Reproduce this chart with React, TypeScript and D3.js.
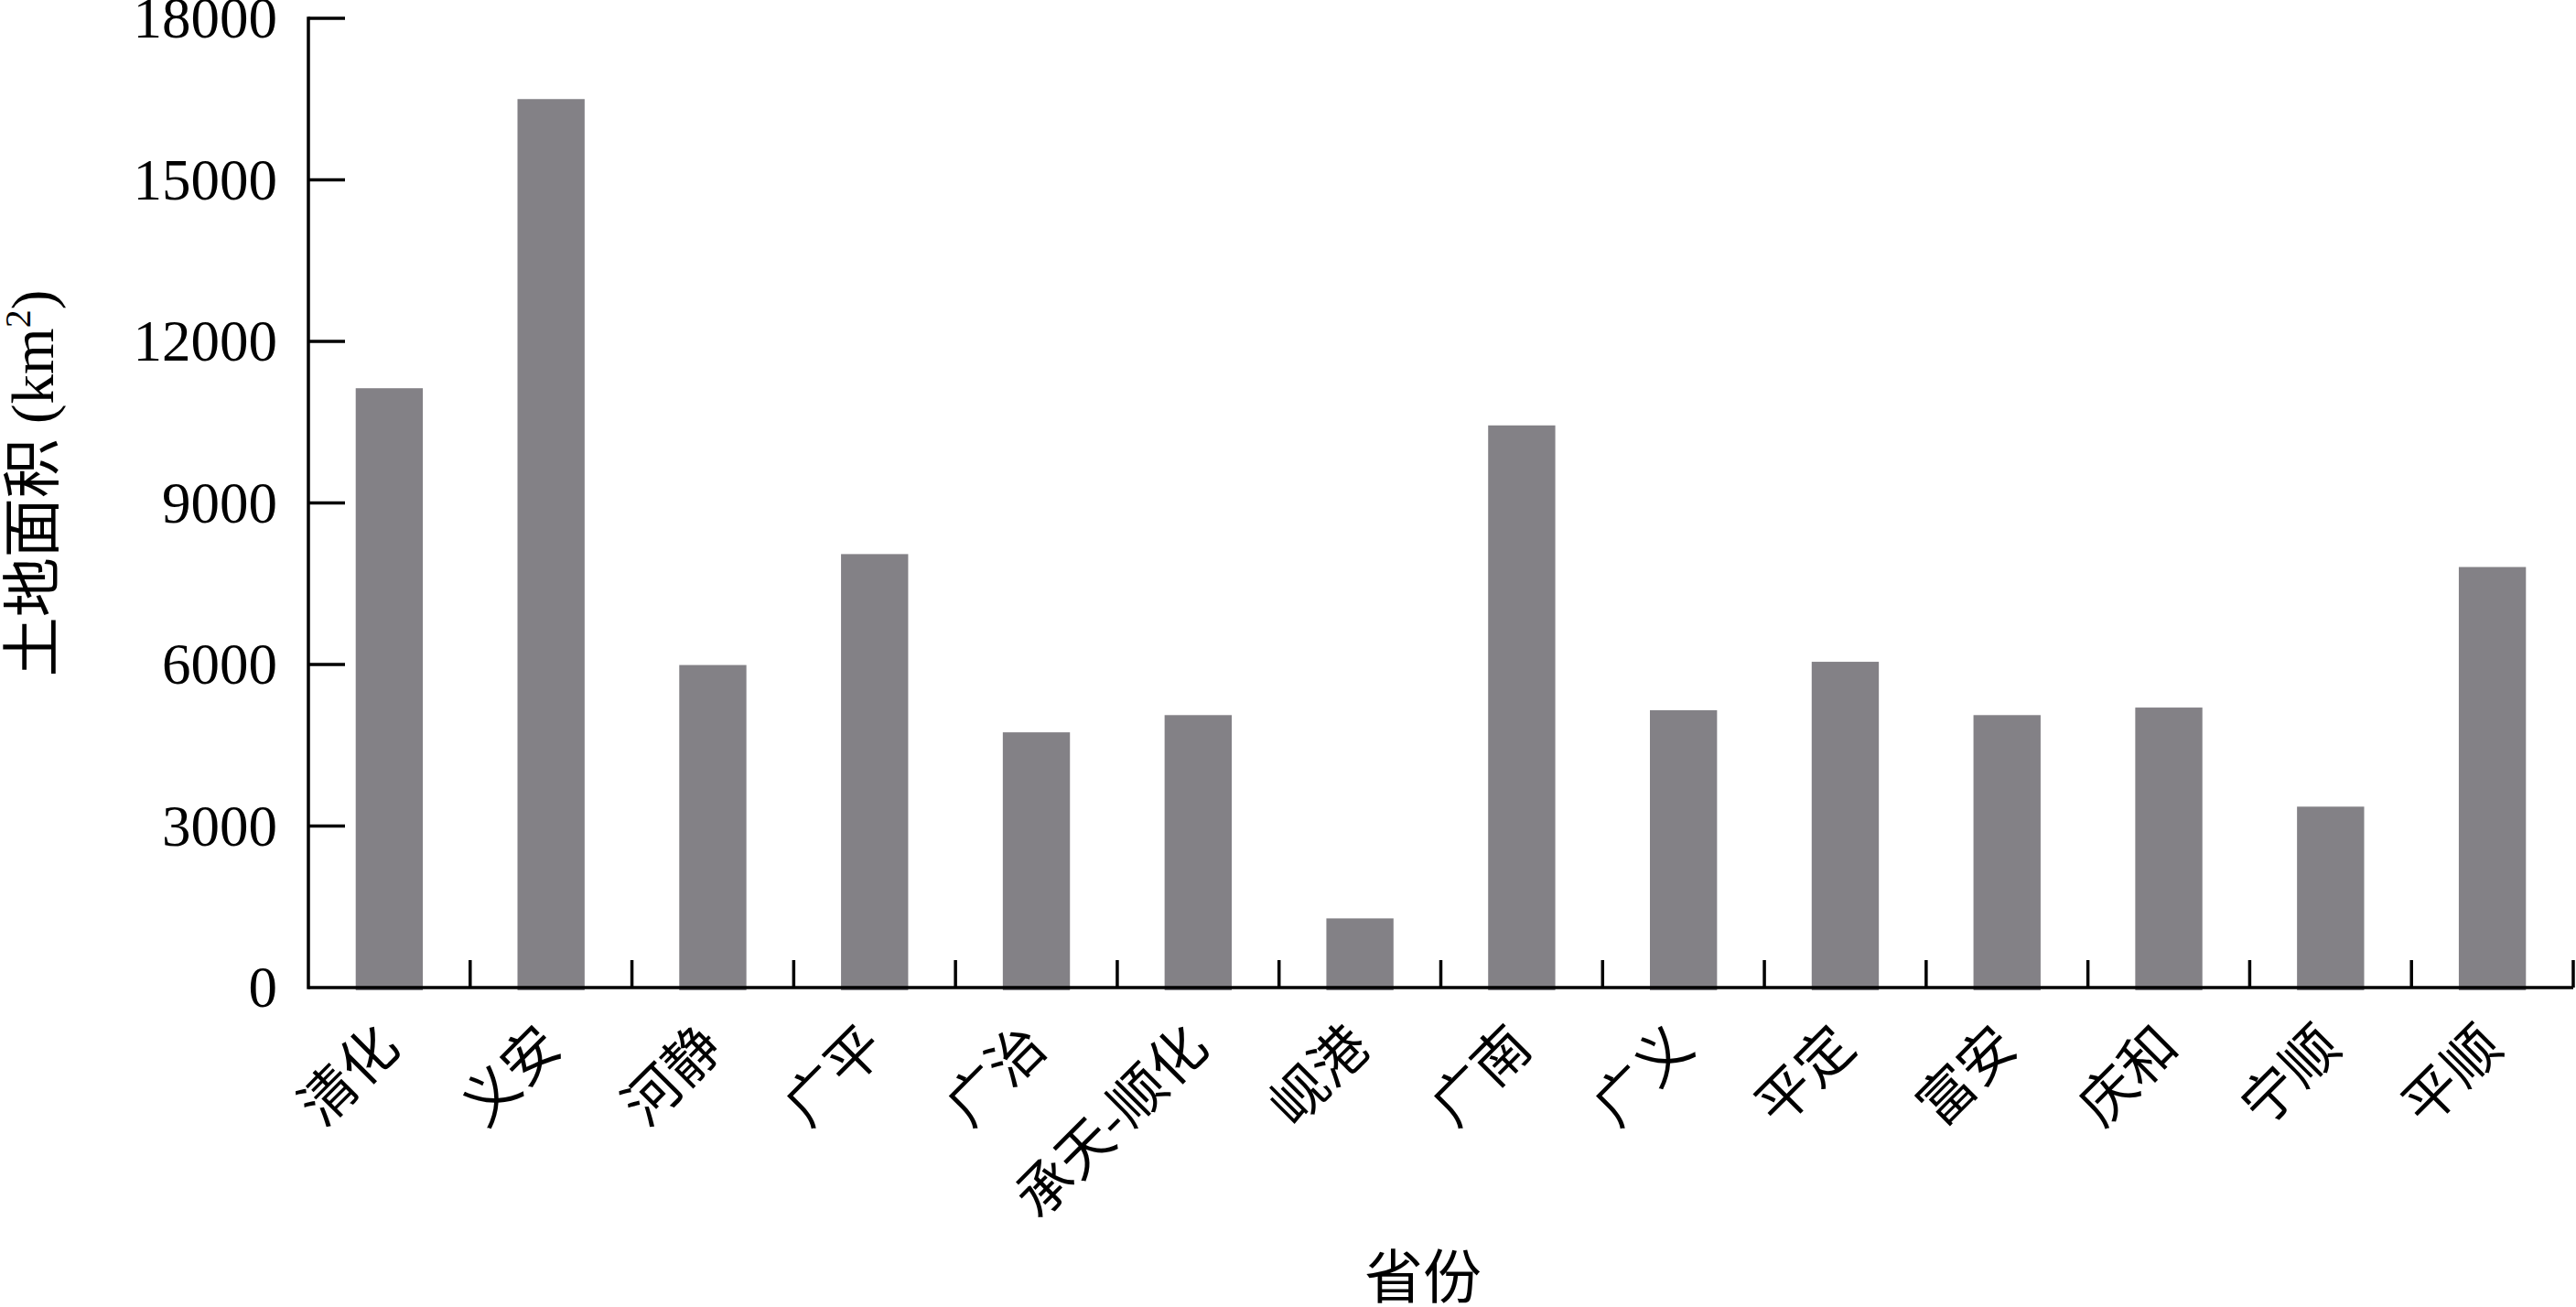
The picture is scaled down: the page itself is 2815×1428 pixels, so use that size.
import { useRef, useEffect } from 'react';
import * as d3 from 'd3';

const W = 2815;
const H = 1428;

const provinces = [
  '清化', '义安', '河静', '广平', '广治', '承天-顺化', '岘港',
  '广南', '广义', '平定', '富安', '庆和', '宁顺', '平顺',
];
const landArea = [
  11130, 16500, 5990, 8050, 4740, 5060, 1285,
  10440, 5150, 6050, 5060, 5200, 3360, 7810,
];
const yTicks = [0, 3000, 6000, 9000, 12000, 15000, 18000];

const M = { left: 337, right: 3, top: 20, bottomY: 1079 };
const BAR_COLOR = '#838186';
const SERIF = '"Liberation Serif", "Times New Roman", serif';
const CJK = '"Noto Sans CJK SC", "Noto Sans", sans-serif';

export default function App() {
  const svgRef = useRef<SVGSVGElement>(null);

  useEffect(() => {
    const svg = d3.select(svgRef.current);
    svg.selectAll('*').remove();

    svg.append('rect').attr('width', W).attr('height', H).attr('fill', '#ffffff');

    const x = d3
      .scaleBand<string>()
      .domain(provinces)
      .range([M.left, W - M.right])
      .paddingInner(0.585)
      .paddingOuter(0.2925);

    const y = d3.scaleLinear().domain([0, 18000]).range([M.bottomY, M.top]);

    // Bars
    provinces.forEach((p, i) => {
      svg
        .append('rect')
        .attr('x', x(p)!)
        .attr('y', y(landArea[i]))
        .attr('width', x.bandwidth())
        .attr('height', y(0) - y(landArea[i]) + 3)
        .attr('fill', BAR_COLOR);
    });

    const step = x.step();
    const x0 = M.left;

    // Y axis
    svg
      .append('line')
      .attr('x1', x0)
      .attr('x2', x0)
      .attr('y1', y(18000) - 1.75)
      .attr('y2', y(0) + 1.75)
      .attr('stroke', '#000')
      .attr('stroke-width', 3.5);

    yTicks.forEach((t) => {
      if (t > 0) {
        svg
          .append('line')
          .attr('x1', x0)
          .attr('x2', x0 + 40)
          .attr('y1', y(t))
          .attr('y2', y(t))
          .attr('stroke', '#000')
          .attr('stroke-width', 3.5);
      }
      svg
        .append('text')
        .attr('x', x0 - 34)
        .attr('y', y(t))
        .attr('dy', '0.34em')
        .attr('text-anchor', 'end')
        .attr('font-family', SERIF)
        .attr('font-size', 63)
        .attr('fill', '#000')
        .text(String(t));
    });

    // X axis
    svg
      .append('line')
      .attr('x1', x0)
      .attr('x2', W - M.right)
      .attr('y1', y(0))
      .attr('y2', y(0))
      .attr('stroke', '#000')
      .attr('stroke-width', 3.5);

    d3.range(1, provinces.length + 1).forEach((k) => {
      const tx = x0 + k * step;
      svg
        .append('line')
        .attr('x1', tx)
        .attr('x2', tx)
        .attr('y1', y(0) - 30)
        .attr('y2', y(0))
        .attr('stroke', '#000')
        .attr('stroke-width', 3.5);
    });

    // Category labels, rotated
    provinces.forEach((p) => {
      const cx = x(p)! + x.bandwidth() / 2 + 14;
      const cy = y(0) + 68;
      svg
        .append('text')
        .attr('transform', `translate(${cx},${cy}) rotate(-45)`)
        .attr('text-anchor', 'end')
        .attr('font-family', CJK)
        .attr('font-size', 61)
        .attr('fill', '#000')
        .text(p);
    });

    // X title
    svg
      .append('text')
      .attr('x', 1555)
      .attr('y', 1418)
      .attr('text-anchor', 'middle')
      .attr('font-family', CJK)
      .attr('font-size', 64)
      .attr('fill', '#000')
      .text('省份');

    // Y title
    const yt = svg
      .append('text')
      .attr('transform', 'translate(58,528) rotate(-90)')
      .attr('text-anchor', 'middle')
      .attr('font-size', 65)
      .attr('fill', '#000');
    yt.append('tspan').attr('font-family', CJK).text('土地面积');
    yt.append('tspan').attr('font-family', SERIF).text(' (km');
    yt.append('tspan')
      .attr('font-family', SERIF)
      .attr('font-size', 40)
      .attr('dy', -25)
      .text('2');
    yt.append('tspan').attr('font-family', SERIF).attr('dy', 25).text(')');
  }, []);

  return (
    <svg
      ref={svgRef}
      width={W}
      height={H}
      style={{ position: 'absolute', left: 0, top: 0, display: 'block' }}
    />
  );
}
